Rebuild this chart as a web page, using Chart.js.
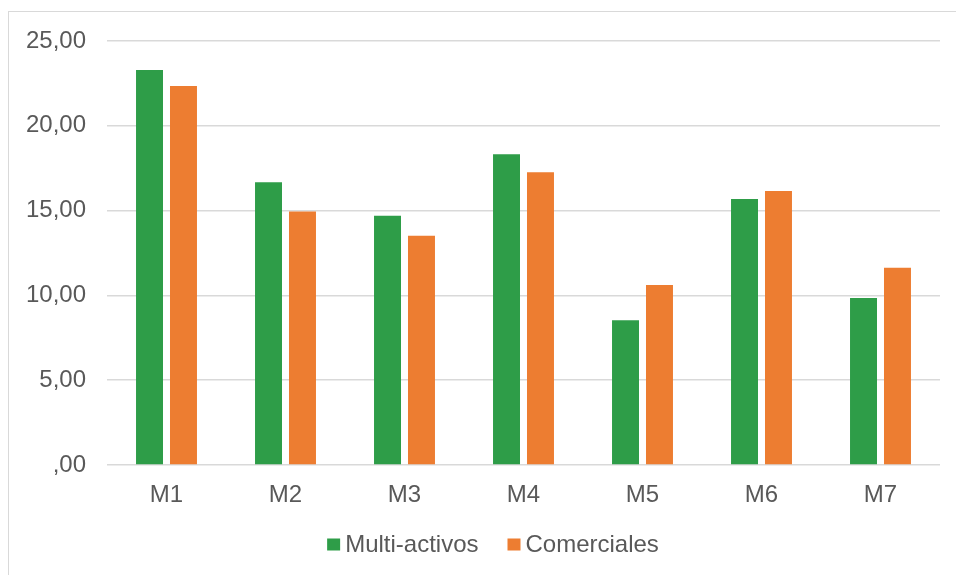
<!DOCTYPE html>
<html>
<head>
<meta charset="utf-8">
<script src="https://cdn.jsdelivr.net/npm/chart.js@4"></script>
<style>
  html, body { margin: 0; padding: 0; background: #fff; overflow: hidden; }
  #wrap { position: relative; width: 956px; height: 575px; overflow: hidden; }
  #frame { position: absolute; left: 8px; top: 11px; width: 1100px; height: 800px;
           border: 1.5px solid #d9d9d9; box-sizing: border-box; }
  #c { position: absolute; left: 0; top: 0; }
</style>
</head>
<body>
<div id="wrap">
  <div id="frame"></div>
  <canvas id="c" width="956" height="575"></canvas>
</div>
<script>
// Categories and series
const categories = ['M1', 'M2', 'M3', 'M4', 'M5', 'M6', 'M7'];
const multiActivos = [23.29, 16.67, 14.70, 18.32, 8.53, 15.68, 9.85];
const comerciales = [22.35, 14.94, 13.52, 17.26, 10.61, 16.16, 11.63];
const yTicks = [0, 5, 10, 15, 20, 25];

const fmt = v => {
  const s = v.toFixed(2).replace('.', ',');
  return s.startsWith('0,') ? s.slice(1) : s;
};

const FONT = "'Liberation Sans', Arial, sans-serif";
const TEXT = '#595959';
const SIZE = 24;

// Compact bottom legend: square swatch, small gap, label; centred on the frame.
const compactLegend = {
  id: 'compactLegend',
  afterDraw(chart, args, opts) {
    const ctx = chart.ctx;
    ctx.save();
    ctx.font = `${SIZE}px ${FONT}`;
    ctx.textBaseline = 'alphabetic';
    const items = chart.data.datasets.map(ds => ({
      label: ds.label, color: ds.backgroundColor,
      w: opts.box + opts.gap + ctx.measureText(ds.label).width
    }));
    const total = items.reduce((s, it) => s + it.w, 0) + opts.spacing * (items.length - 1);
    let x = opts.centerX - total / 2;
    items.forEach(it => {
      ctx.fillStyle = it.color;
      ctx.fillRect(x, opts.boxTop, opts.box, opts.boxH);
      ctx.fillStyle = TEXT;
      ctx.fillText(it.label, x + opts.box + opts.gap, opts.baseline);
      x += it.w + opts.spacing;
    });
    ctx.restore();
  }
};

new Chart(document.getElementById('c'), {
  type: 'bar',
  data: {
    labels: categories,
    datasets: [
      { label: 'Multi-activos', data: multiActivos, backgroundColor: '#2e9d48',
        categoryPercentage: 0.571, barPercentage: 0.794 },
      { label: 'Comerciales', data: comerciales, backgroundColor: '#ed7d31',
        categoryPercentage: 0.571, barPercentage: 0.794 }
    ]
  },
  plugins: [compactLegend],
  options: {
    responsive: false,
    devicePixelRatio: 1,
    animation: false,
    layout: { padding: { top: 41, right: 16, bottom: 60, left: 12 } },
    plugins: {
      tooltip: { enabled: false },
      legend: { display: false },
      compactLegend: { centerX: 493, box: 13, boxH: 12, boxTop: 538.5, gap: 5,
                       spacing: 29, baseline: 551.5 }
    },
    scales: {
      x: {
        grid: { display: false, drawTicks: false },
        border: { display: false },
        ticks: { color: TEXT, font: { family: FONT, size: SIZE }, padding: 16 },
        afterFit: a => { a.height = 50; }
      },
      y: {
        min: 0, max: 25,
        grid: { color: '#d9d9d9', lineWidth: 1.5, drawTicks: false },
        border: { display: false },
        afterBuildTicks: a => { a.ticks = yTicks.map(v => ({ value: v })); },
        ticks: { color: TEXT, font: { family: FONT, size: SIZE }, padding: 21,
                 callback: v => fmt(v) },
        afterFit: a => { a.width = 95; }
      }
    }
  }
});
</script>
</body>
</html>
